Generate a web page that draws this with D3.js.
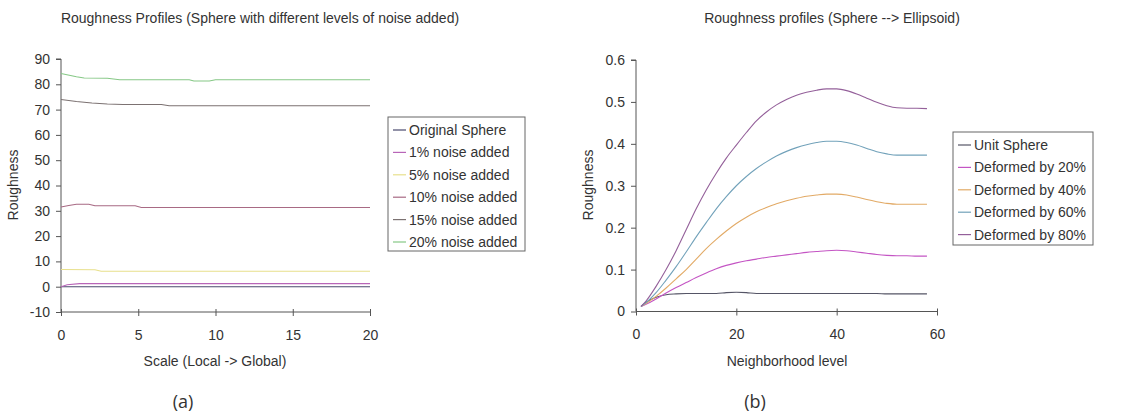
<!DOCTYPE html>
<html><head><meta charset="utf-8">
<script src="https://cdn.jsdelivr.net/npm/d3@7"></script>
<style>body{margin:0;background:#fff}svg{display:block}text{font-family:"Liberation Sans",Arial,sans-serif;fill:#333}</style>
</head><body><svg id="c" width="1141" height="415"></svg>
<script>
// ---- Chart (a) data ----
const aTitle = "Roughness Profiles (Sphere with different levels of noise added)";
const aSeriesNames = ["Original Sphere","1% noise added","5% noise added","10% noise added","15% noise added","20% noise added"];
const aColors = ["#4a4a6e","#b865b8","#e8e08c","#a86a84","#7c7272","#86c886"];
const aOriginal = [[0,0],[20,0]];
const aNoise1 = [[0,0],[0.4,0.8],[1.2,1.2],[20,1.2]];
const aNoise5 = [[0,6.8],[2.2,6.7],[2.6,6.1],[20,6.1]];
const aNoise10 = [[0,31.5],[0.5,32.1],[1,32.6],[1.8,32.6],[2.2,32.0],[4.8,32.0],[5.2,31.3],[20,31.3]];
const aNoise15 = [[0,74],[1,73.2],[2,72.6],[3,72.2],[4,72],[6.5,72],[7,71.5],[20,71.5]];
const aNoise20 = [[0,84.3],[1,83],[1.5,82.5],[3,82.4],[3.8,81.8],[8.3,81.8],[8.6,81.3],[9.6,81.3],[10,81.8],[20,81.8]];
const aXTicks = [0,5,10,15,20];
const aYTicks = [-10,0,10,20,30,40,50,60,70,80,90];

// ---- Chart (b) data ----
const bTitle = "Roughness profiles (Sphere --> Ellipsoid)";
const bSeriesNames = ["Unit Sphere","Deformed by 20%","Deformed by 40%","Deformed by 60%","Deformed by 80%"];
const bColors = ["#555566","#c455c4","#e2aa66","#72a2ba","#94609a"];
const bX = [1,2,4,6,8,10,12,14,16,18,20,22,24,26,28,30,32,34,36,38,40,42,44,46,48,50,52,54,56,58];
const bUnit = [0.012,0.022,0.034,0.040,0.042,0.043,0.043,0.043,0.043,0.045,0.046,0.045,0.043,0.043,0.043,0.043,0.043,0.043,0.043,0.043,0.043,0.043,0.043,0.043,0.043,0.042,0.042,0.042,0.042,0.042];
const bDef20 = [0.012,0.017,0.030,0.044,0.057,0.069,0.081,0.092,0.102,0.110,0.116,0.121,0.125,0.129,0.132,0.135,0.138,0.141,0.143,0.145,0.146,0.145,0.142,0.139,0.136,0.134,0.133,0.133,0.132,0.132];
const bDef40 = [0.012,0.019,0.036,0.056,0.078,0.100,0.125,0.150,0.172,0.192,0.210,0.225,0.238,0.248,0.257,0.264,0.270,0.275,0.278,0.280,0.280,0.278,0.273,0.267,0.262,0.258,0.256,0.256,0.256,0.256];
const bDef60 = [0.012,0.021,0.045,0.075,0.107,0.142,0.178,0.212,0.245,0.274,0.300,0.322,0.341,0.357,0.371,0.382,0.391,0.398,0.403,0.406,0.406,0.403,0.397,0.389,0.381,0.376,0.373,0.373,0.373,0.373];
const bDef80 = [0.012,0.025,0.060,0.100,0.145,0.195,0.245,0.290,0.330,0.366,0.397,0.427,0.455,0.476,0.493,0.506,0.516,0.523,0.528,0.531,0.531,0.527,0.519,0.509,0.499,0.491,0.486,0.485,0.485,0.484];
const bXTicks = [0,20,40,60];
const bYTicks = [0,0.1,0.2,0.3,0.4,0.5,0.6];

const svg = d3.select("#c");
const AX = "#555";

function drawChart(cfg){
  const g = svg.append("g");
  const x = d3.scaleLinear().domain(cfg.xDomain).range([cfg.x0, cfg.x1]);
  const y = d3.scaleLinear().domain(cfg.yDomain).range([cfg.y0, cfg.y1]);
  const ya = g.append("g").attr("transform",`translate(${cfg.x0},0)`)
    .call(d3.axisLeft(y).tickValues(cfg.yTicks).tickSize(5).tickPadding(6).tickFormat(cfg.yFmt));
  ya.select(".domain").attr("stroke",AX).attr("d",`M-5,${cfg.y1}H0V${cfg.y0}`);
  ya.selectAll(".tick line").attr("stroke",AX);
  ya.selectAll(".tick text").style("font-size","14px").attr("fill","#333").style("font-family","Liberation Sans, Arial, sans-serif");
  const xa = g.append("g").attr("transform",`translate(0,${cfg.y0})`)
    .call(d3.axisBottom(x).tickValues(cfg.xTicks).tickSize(4).tickPadding(14));
  xa.select(".domain").attr("stroke",AX).attr("d",`M${cfg.x0},0H${cfg.x1}`);
  xa.selectAll(".tick line").attr("stroke",AX).attr("y1",-3);
  xa.selectAll(".tick text").style("font-size","14px").attr("fill","#333").style("font-family","Liberation Sans, Arial, sans-serif");
  const line = d3.line().x(d=>x(d[0])).y(d=>y(d[1])).curve(cfg.curve);
  cfg.series.forEach((s,i)=>{
    g.append("path").attr("d",line(s)).attr("fill","none").attr("stroke",cfg.colors[i]).attr("stroke-width",1.1);
  });
  g.append("text").attr("x",cfg.titleX).attr("y",23).attr("text-anchor","middle").style("font-size","14px").text(cfg.title);
  g.append("text").attr("x",cfg.xTitleX).attr("y",366).attr("text-anchor","middle").style("font-size","14px").text(cfg.xTitle);
  g.append("text").attr("transform",`translate(${cfg.yTitleX},185) rotate(-90)`).attr("text-anchor","middle").style("font-size","14px").text("Roughness");
  g.append("text").attr("x",cfg.subX).attr("y",408).attr("text-anchor","middle")
    .style("font-family","Open Sans, Noto Sans, sans-serif").style("font-size","18px").attr("fill","#222").text(cfg.sub);
  const L = cfg.legend;
  g.append("rect").attr("x",L.x).attr("y",L.y).attr("width",L.w).attr("height",L.h)
    .attr("fill","#fff").attr("stroke","#666").attr("stroke-width",1);
  cfg.names.forEach((n,i)=>{
    const cy = L.y + 13 + i*22.4;
    g.append("line").attr("x1",L.x+5).attr("x2",L.x+18).attr("y1",cy).attr("y2",cy).attr("stroke",cfg.colors[i]).attr("stroke-width",1.2);
    g.append("text").attr("x",L.x+21).attr("y",cy+5).style("font-size","14px").text(n);
  });
}

drawChart({
  xDomain:[0,20], yDomain:[-10,90], x0:61, x1:370, y0:312, y1:59,
  xTicks:aXTicks, yTicks:aYTicks, yFmt:d=>String(d),
  series:[aOriginal,aNoise1,aNoise5,aNoise10,aNoise15,aNoise20], colors:aColors, names:aSeriesNames,
  curve:d3.curveLinear, title:aTitle, titleX:260, xTitle:"Scale (Local -> Global)", xTitleX:215,
  yTitleX:18, sub:"(a)", subX:183,
  legend:{x:388,y:117,w:137,h:134}
});

drawChart({
  xDomain:[0,60], yDomain:[0,0.6], x0:636, x1:937, y0:311.5, y1:60,
  xTicks:bXTicks, yTicks:bYTicks, yFmt:d=> d===0 ? "0" : d3.format(".1f")(d),
  series:[bUnit,bDef20,bDef40,bDef60,bDef80].map(arr=>arr.map((v,i)=>[bX[i],v])), colors:bColors, names:bSeriesNames,
  curve:d3.curveMonotoneX, title:bTitle, titleX:832, xTitle:"Neighborhood level", xTitleX:787,
  yTitleX:593, sub:"(b)", subX:755,
  legend:{x:953,y:132,w:140,h:113}
});
</script></body></html>
